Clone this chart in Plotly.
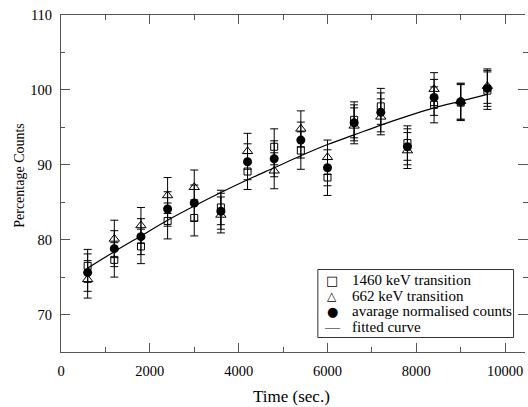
import plotly.graph_objects as go

# ---------------- data ----------------
time_s = [600, 1200, 1800, 2400, 3000, 3600, 4200, 4800,
          5400, 6000, 6600, 7200, 7800, 8400, 9000, 9600]

counts_1460 = [76.5, 77.3, 79.1, 82.5, 82.9, 84.3, 89.1, 92.4,
               91.9, 88.3, 96.0, 97.8, 92.9, 98.0, 98.3, 99.9]
err_1460 = [2.2, 2.3, 2.3, 2.4, 2.4, 2.3, 2.4, 2.4,
            2.5, 2.4, 2.4, 2.4, 2.3, 2.4, 2.4, 2.5]

counts_662 = [74.7, 80.1, 81.9, 85.9, 87.0, 83.3, 91.8, 89.2,
              94.8, 91.0, 95.2, 96.4, 91.9, 100.1, 98.5, 100.5]
err_662 = [2.5, 2.5, 2.4, 2.4, 2.3, 2.4, 2.4, 2.4,
           2.4, 2.3, 2.4, 2.4, 2.4, 2.2, 2.4, 2.3]

counts_avg = [75.6, 78.8, 80.4, 84.1, 84.9, 83.8, 90.4, 90.8,
              93.3, 89.6, 95.6, 97.0, 92.4, 99.0, 98.4, 100.2]
err_avg = [2.5, 2.4, 2.4, 2.3, 2.4, 2.4, 2.4, 2.4,
           2.4, 2.4, 2.4, 2.6, 2.4, 2.4, 2.4, 2.4]

fit_time = time_s
fit_counts = [76.2, 78.4, 80.5, 82.6, 84.5, 86.3, 88.0, 89.6,
              91.2, 92.7, 94.0, 95.3, 96.5, 97.6, 98.5, 99.4]

x_title = "Time (sec.)"
y_title = "Percentage Counts"
legend_labels = ["1460 keV transition", "662 keV transition",
                 "avarage normalised counts", "fitted curve"]
legend_glyphs = ["\u25a1", "\u25b3", "\u25cf", "\u2014"]

# ---------------- layout geometry (pixels) ----------------
W, H = 528, 407
L, R, T, B = 61, 0, 15, 55
PX0, PX1 = L, W - R
PY0, PY1 = T, H - B

def pxx(x):
    return (x - PX0) / (PX1 - PX0)

def pxy(y):
    return (PY1 - y) / (PY1 - PY0)

SERIF = "Liberation Serif"
AX = "#555555"

def eb(arr):
    return dict(type="data", array=arr, visible=True, color="black",
                thickness=1, width=4)

fig = go.Figure()

fig.add_trace(go.Scatter(
    x=time_s, y=counts_1460, mode="markers", name=legend_labels[0],
    marker=dict(symbol="square-open", size=7, color="black",
                line=dict(width=1, color="black")),
    error_y=eb(err_1460), showlegend=False))

fig.add_trace(go.Scatter(
    x=time_s, y=counts_662, mode="markers", name=legend_labels[1],
    marker=dict(symbol="triangle-up-open", size=9, color="black",
                line=dict(width=1, color="black")),
    error_y=eb(err_662), showlegend=False))

fig.add_trace(go.Scatter(
    x=time_s, y=counts_avg, mode="markers", name=legend_labels[2],
    marker=dict(symbol="circle", size=9, color="black"),
    error_y=eb(err_avg), showlegend=False))

fig.add_trace(go.Scatter(
    x=fit_time, y=fit_counts, mode="lines", name=legend_labels[3],
    line=dict(color="black", width=1.2, shape="spline"),
    yaxis="y2", showlegend=False))

annotations = [
    dict(text=x_title, xref="paper", yref="paper", x=pxx(292.5), y=pxy(396.5),
         xanchor="center", yanchor="middle", showarrow=False,
         font=dict(family=SERIF, size=17, color="black")),
    dict(text=y_title, xref="paper", yref="paper", x=pxx(18.5), y=pxy(175),
         xanchor="center", yanchor="middle", showarrow=False, textangle=-90,
         font=dict(family=SERIF, size=14, color="black")),
]

row_y = [280, 295.5, 311, 326.5]
glyph_sizes = [13, 12, 13, 15]
for lab, gl, ry, gs in zip(legend_labels, legend_glyphs, row_y, glyph_sizes):
    annotations.append(dict(
        text=lab, xref="paper", yref="paper", x=pxx(351.5), y=pxy(ry),
        xanchor="left", yanchor="middle", showarrow=False,
        font=dict(family=SERIF, size=15, color="black")))
    annotations.append(dict(
        text=gl, xref="paper", yref="paper", x=pxx(334), y=pxy(ry),
        xanchor="center", yanchor="middle", showarrow=False,
        font=dict(family="DejaVu Sans" if gl != "\u2014" else SERIF,
                  size=gs, color="black")))

shapes = [dict(type="rect", xref="paper", yref="paper",
               x0=pxx(319.5), x1=pxx(516.5), y0=pxy(337.5), y1=pxy(269.5),
               line=dict(color="#333333", width=1), fillcolor="white",
               layer="above")]

fig.update_layout(
    width=W, height=H,
    margin=dict(l=L, r=R, t=T, b=B, pad=0),
    paper_bgcolor="white", plot_bgcolor="white",
    font=dict(family=SERIF, size=14.5, color="black"),
    showlegend=False,
    annotations=annotations,
    shapes=shapes,
    xaxis=dict(
        range=[0, 10447], tick0=0, dtick=2000, tickformat="d",
        showgrid=False, zeroline=False,
        showline=True, linecolor=AX, linewidth=1, mirror="ticks",
        ticks="inside", ticklen=9, tickcolor=AX, tickwidth=1,
        minor=dict(dtick=1000, tick0=0, ticks="inside", ticklen=5,
                   tickcolor=AX, tickwidth=1, showgrid=False),
        tickfont=dict(family=SERIF, size=14.5, color="black"),
        ticklabelstandoff=6,
    ),
    yaxis=dict(
        range=[65, 110], tick0=70, dtick=10, tickformat="d",
        showgrid=False, zeroline=False,
        showline=True, linecolor=AX, linewidth=1, mirror=False,
        ticks="inside", ticklen=9, tickcolor=AX, tickwidth=1,
        minor=dict(dtick=5, tick0=65, ticks="inside", ticklen=4,
                   tickcolor=AX, tickwidth=1, showgrid=False),
        tickfont=dict(family=SERIF, size=14.5, color="black"),
        ticklabelstandoff=5,
    ),
    yaxis2=dict(
        range=[65, 110], tick0=70, dtick=10, overlaying="y", side="right",
        anchor="free", position=1, shift=3, showgrid=False, zeroline=False,
        showline=False, ticks="inside", ticklen=10, tickcolor=AX, tickwidth=1,
        showticklabels=False,
        minor=dict(dtick=5, tick0=65, ticks="inside", ticklen=5,
                   tickcolor=AX, tickwidth=1, showgrid=False),
    ),
)

fig.write_html("out.html",
               config={"displayModeBar": False},
               post_script="document.body.style.margin='0';"
                           "document.body.style.overflow='hidden';")
